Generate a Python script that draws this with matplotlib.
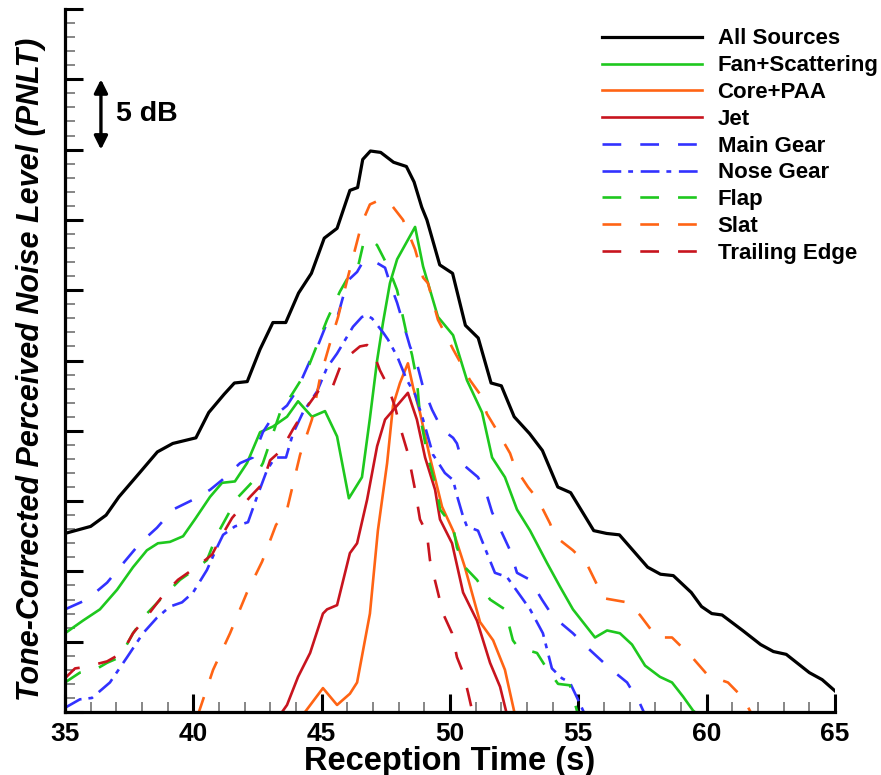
import matplotlib
matplotlib.use("Agg")
import matplotlib.pyplot as plt
from matplotlib.ticker import MultipleLocator

plt.rcParams['font.family'] = ['Liberation Sans', 'DejaVu Sans']
plt.rcParams['lines.scale_dashes'] = False

# ---------------- data (reception time [s], PNLT relative [dB]) ----------------
t_all = [35.0, 36.0, 36.6, 37.1, 37.9, 38.6, 39.2, 40.1, 40.6, 41.2, 41.6, 42.1, 42.6, 43.1, 43.6,
         44.1, 44.6, 45.1, 45.6, 46.1, 46.4, 46.6, 46.9, 47.3, 47.8, 48.3, 48.6, 48.9, 49.1, 49.6,
         50.1, 50.6, 51.1, 51.6, 52.0, 52.5, 53.1, 53.6, 54.2, 54.7, 55.6, 56.1, 56.6, 57.7, 58.2,
         58.7, 59.4, 59.8, 60.2, 60.6, 61.4, 62.1, 62.6, 63.1, 64.0, 64.5, 65.0]
L_all = [12.7, 13.2, 14.0, 15.3, 17.0, 18.5, 19.1, 19.5, 21.3, 22.6, 23.4, 23.5, 25.8, 27.7, 27.7,
         29.8, 31.2, 33.7, 34.4, 37.1, 37.3, 39.3, 39.9, 39.8, 39.1, 38.8, 37.7, 35.9, 35.0, 31.8,
         31.2, 27.5, 26.6, 23.4, 23.2, 21.0, 19.8, 18.6, 16.0, 15.6, 12.9, 12.7, 12.6, 10.3, 9.8,
         9.7, 8.5, 7.5, 7.0, 6.9, 5.8, 4.8, 4.3, 4.1, 2.8, 2.3, 1.5]

t_fan = [35.0, 35.7, 36.36, 37.03, 37.65, 38.19, 38.62, 39.09, 39.6, 40.06, 40.65, 41.12, 41.62,
         42.09, 42.6, 43.1, 43.65, 44.08, 44.62, 45.13, 45.6, 46.06, 46.57, 46.88, 47.16, 47.39,
         47.66, 47.94, 48.64, 48.95, 49.53, 50.12, 50.66, 51.25, 51.64, 52.14, 52.61, 53.12, 53.78,
         54.29, 54.79, 55.65, 56.12, 56.62, 57.09, 57.6, 58.18, 58.65, 59.08, 59.47, 59.74]
L_fan = [5.6, 6.5, 7.3, 8.7, 10.3, 11.5, 12.0, 12.1, 12.5, 13.7, 15.3, 16.3, 16.4,
         17.7, 19.9, 20.3, 21.0, 22.1, 21.0, 21.4, 19.6, 15.2, 16.7, 20.9, 25.0, 27.7,
         30.5, 32.2, 34.5, 31.7, 28.1, 26.8, 23.6, 21.3, 18.1, 16.7, 14.4, 12.9, 10.6,
         8.9, 7.3, 5.3, 5.8, 5.6, 4.8, 3.3, 2.5, 2.1, 1.1, 0.1, -0.3]

t_core = [44.27, 45.05, 45.6, 46.1, 46.38, 46.88, 47.19, 47.55, 47.78, 48.05, 48.36, 48.56, 48.83,
          49.22, 49.69, 50.12, 50.58, 51.17, 51.68, 52.14, 52.53]
L_core = [-0.2, 1.7, 0.5, 1.3, 2.1, 7.0, 12.9, 17.7, 21.8, 23.4, 24.8, 23.1, 21.3,
          18.1, 14.6, 12.9, 10.3, 6.4, 5.1, 3.0, -0.2]

t_jet = [43.38, 43.65, 44.08, 44.55, 45.05, 45.21, 45.6, 46.1, 46.38, 46.77, 47.16, 47.47, 47.94,
         48.36, 48.71, 49.03, 49.42, 49.61, 50.08, 50.51, 51.05, 51.56, 51.95, 52.22]
L_jet = [-0.2, 0.5, 2.5, 4.2, 7.0, 7.3, 7.6, 11.3, 12.0, 15.1, 18.9, 20.8, 21.8,
         22.7, 20.8, 18.1, 15.8, 13.7, 12.0, 8.5, 6.5, 3.5, 1.8, -0.2]

t_main = [35.0, 35.86, 36.64, 37.14, 37.92, 38.58, 39.21, 39.99, 40.65, 41.12, 41.82, 42.32, 42.71,
          43.06, 43.65, 44.04, 44.55, 44.82, 45.21, 45.6, 45.83, 46.03, 46.38, 46.57, 46.88, 47.19,
          47.47, 47.66, 47.94, 48.25, 48.44, 48.71, 48.95, 49.3, 49.69, 50.12, 50.27, 50.51, 51.09,
          51.44, 51.64, 52.06, 52.34, 52.61, 53.12, 53.58, 54.01, 54.79, 55.34, 56.23, 56.9, 57.4, 57.6]
L_main = [7.3, 8.0, 9.2, 10.3, 12.0, 13.1, 14.4, 15.1, 15.8, 16.5, 17.7, 18.1, 19.9,
          20.9, 21.8, 22.9, 25.0, 25.9, 27.7, 28.0, 29.5, 30.7, 31.3, 31.9, 32.2, 31.9,
          31.6, 30.5, 29.1, 27.2, 26.0, 24.8, 23.1, 21.5, 20.1, 19.5, 19.1, 17.6, 16.7,
          15.4, 14.2, 12.6, 11.5, 9.9, 9.4, 8.0, 6.8, 5.6, 4.6, 3.1, 2.1, 0.6, -0.2]

t_nose = [35.0, 35.58, 36.05, 36.75, 37.42, 38.04, 38.58, 39.09, 39.56, 39.99, 40.53, 40.92, 41.16,
          41.62, 42.13, 42.48, 42.87, 43.18, 43.61, 43.88, 44.27, 44.82, 45.21, 45.6, 46.22, 46.57,
          46.77, 46.96, 47.39, 47.58, 47.94, 48.32, 48.64, 48.95, 49.34, 49.8, 50.12, 50.27, 50.51,
          50.66, 51.09, 51.44, 51.75, 52.22, 52.65, 53.12, 53.62, 53.97, 54.36, 54.67, 55.06, 55.26]
L_nose = [0.3, 0.9, 1.0, 2.1, 3.9, 5.6, 6.7, 7.5, 7.8, 8.5, 10.1, 11.7, 12.6,
          13.2, 13.5, 15.3, 17.2, 18.1, 18.1, 19.8, 21.3, 22.8, 24.5, 25.5, 27.4, 28.1,
          28.2, 28.0, 27.0, 26.5, 25.3, 23.6, 22.6, 20.8, 18.3, 17.0, 16.5, 15.4, 13.9,
          13.2, 12.9, 11.3, 9.9, 9.6, 8.5, 7.3, 5.6, 3.1, 2.4, 2.1, 0.6, -0.2]

t_flap = [35.0, 35.58, 36.17, 36.64, 37.14, 37.65, 38.19, 38.82, 39.48, 40.18, 40.53, 40.92, 41.7,
          42.32, 42.71, 42.99, 43.38, 43.88, 44.43, 44.82, 45.21, 45.71, 46.18, 46.42, 46.61, 46.88,
          47.16, 47.58, 47.94, 48.32, 48.52, 48.71, 48.83, 49.14, 49.49, 49.61, 50.12, 50.27, 50.58,
          51.05, 51.56, 52.14, 52.45, 52.65, 53.39, 53.7, 54.21, 54.67, 54.99]
L_flap = [2.1, 2.8, 3.0, 3.5, 3.9, 5.6, 7.0, 8.2, 9.4, 10.3, 10.8, 12.6, 15.2,
          16.4, 17.7, 19.2, 21.3, 22.7, 24.3, 26.1, 27.9, 29.9, 31.4, 31.7, 33.2, 33.7,
          33.2, 31.7, 30.0, 26.8, 25.4, 23.6, 21.1, 18.1, 15.8, 14.4, 13.2, 11.7, 10.3,
          9.4, 8.0, 7.3, 5.1, 4.6, 4.2, 3.3, 2.0, 1.9, -0.2]

t_slat = [40.18, 40.77, 41.43, 42.09, 42.68, 43.22, 43.65, 44.16, 44.62, 44.94, 45.32, 45.64, 45.99,
          46.3, 46.57, 46.88, 47.12, 47.66, 48.17, 48.64, 48.95, 49.14, 49.53, 50.12, 50.78, 51.17,
          51.44, 51.87, 52.34, 52.53, 53.04, 53.43, 53.9, 54.09, 54.79, 55.34, 55.77, 55.96, 56.9,
          57.4, 58.06, 58.65, 59.43, 60.05, 60.83, 61.42, 61.77]
L_slat = [-0.2, 3.0, 5.6, 8.5, 10.7, 13.3, 14.4, 18.3, 20.8, 23.8, 26.2, 28.1, 30.7,
          32.9, 34.8, 36.1, 36.3, 36.2, 35.0, 32.9, 30.9, 30.5, 27.9, 25.8, 23.6, 22.6,
          21.2, 19.9, 18.4, 17.4, 16.0, 15.1, 13.4, 12.5, 11.5, 10.5, 8.9, 8.1, 7.8,
          6.9, 5.3, 5.3, 3.9, 2.6, 2.1, 1.0, -0.2]

t_te = [35.0, 35.39, 35.78, 36.64, 37.22, 37.65, 38.19, 38.82, 39.4, 40.26, 40.73, 41.16, 41.51,
        42.21, 42.68, 42.99, 43.42, 43.88, 44.35, 44.82, 45.13, 45.44, 45.71, 46.03, 46.49, 46.77,
        46.96, 47.27, 47.55, 47.86, 48.05, 48.36, 48.64, 48.83, 49.1, 49.22, 49.53, 49.73, 50.08,
        50.27, 50.51, 50.7, 50.9]
L_te = [2.4, 3.1, 3.2, 3.6, 4.2, 5.6, 6.8, 8.3, 9.4, 10.5, 11.2, 12.7, 13.8,
        15.3, 16.2, 17.9, 18.6, 20.1, 21.5, 22.7, 23.4, 23.2, 24.5, 25.3, 26.0, 26.1,
        25.8, 24.3, 23.3, 21.7, 20.3, 18.4, 15.8, 13.7, 12.7, 10.8, 8.5, 7.0, 5.6,
        3.9, 2.8, 1.4, -0.2]

labels = ["All Sources", "Fan+Scattering", "Core+PAA", "Jet", "Main Gear",
          "Nose Gear", "Flap", "Slat", "Trailing Edge"]

# ---------------- styles ----------------
BLACK = "#000000"
GREEN = "#1ec81e"
ORANGE = "#ff6414"
RED = "#c8141e"
BLUE = "#3232ff"
DASH = (0, (13.5, 13.7))
DASHDOT = (0, (13.5, 5.0, 3.5, 5.5))

series = [
    (t_all, L_all, BLACK, '-', 2.3),
    (t_fan, L_fan, GREEN, '-', 1.9),
    (t_core, L_core, ORANGE, '-', 1.9),
    (t_jet, L_jet, RED, '-', 1.9),
    (t_main, L_main, BLUE, DASH, 1.9),
    (t_nose, L_nose, BLUE, DASHDOT, 1.9),
    (t_flap, L_flap, GREEN, DASH, 1.9),
    (t_slat, L_slat, ORANGE, DASH, 1.9),
    (t_te, L_te, RED, DASH, 1.9),
]

fig = plt.figure(figsize=(8.81, 7.75), dpi=100)
ax = fig.add_axes([65 / 881, 63 / 775, 770 / 881, 703 / 775])

handles = []
for (t, L, c, ls, lw), lab in zip(series, labels):
    h, = ax.plot(t, L, color=c, linestyle=ls, linewidth=lw, label=lab)
    handles.append(h)

ax.set_xlim(35, 65)
ax.set_ylim(0, 50)

for s in ['top', 'right']:
    ax.spines[s].set_visible(False)
for s in ['left', 'bottom']:
    ax.spines[s].set_linewidth(2.3)

ax.xaxis.set_major_locator(MultipleLocator(5))
ax.xaxis.set_minor_locator(MultipleLocator(1))
ax.yaxis.set_major_locator(MultipleLocator(5))
ax.yaxis.set_minor_locator(MultipleLocator(1))
ax.tick_params(which='major', direction='in', length=13, width=2.2, color='black')
ax.tick_params(which='minor', direction='in', length=7, width=1.1, color='#666666')
ax.tick_params(axis='y', which='both', labelleft=False)
ax.tick_params(axis='x', which='major', labelsize=19, pad=7)
for lab in ax.get_xticklabels():
    lab.set_fontweight('bold')

ax.set_xlabel("Reception Time (s)", fontsize=23.5, fontweight='bold', labelpad=0)
ax.set_ylabel("Tone-Corrected Perceived Noise Level (PNLT)", fontsize=22,
              fontweight='bold', fontstyle='italic')
ax.yaxis.set_label_coords(-0.025, 0.487)

# 5 dB scale arrow
ax.annotate("", xy=(36.4, 45.0), xytext=(36.4, 40.0),
            arrowprops=dict(arrowstyle='<|-|>,head_length=0.8,head_width=0.4',
                            color='black', lw=2.4, shrinkA=0, shrinkB=0))
ax.text(37.0, 42.5, "5 dB", fontsize=20.5, fontweight='bold', va='center', ha='left')

leg = ax.legend(handles=handles, loc='upper left',
                bbox_to_anchor=(602 / 881, 1 - 28.5 / 775), bbox_transform=fig.transFigure,
                frameon=False, fontsize=16, handlelength=4.5, handletextpad=0.7,
                labelspacing=0.26, borderpad=0, borderaxespad=0)
for txt in leg.get_texts():
    txt.set_fontweight('bold')

fig.savefig("out.png", dpi=100)
